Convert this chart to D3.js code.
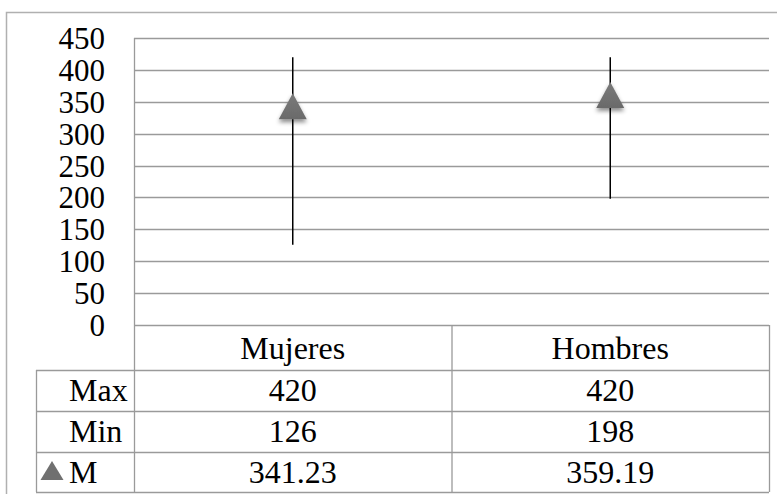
<!DOCTYPE html>
<html>
<head>
<meta charset="utf-8">
<script src="https://cdn.jsdelivr.net/npm/d3@7"></script>
</head>
<body style="margin:0">
<svg id="chart" width="777" height="494" font-family="Liberation Serif"></svg>
<script>
// Data
const categories = ["Mujeres", "Hombres"];
const maxValues = [420, 420];
const minValues = [126, 198];
const meanValues = [341.23, 359.19];
const yTicks = [0, 50, 100, 150, 200, 250, 300, 350, 400, 450];
const rowLabels = ["Max", "Min", "M"];

const svg = d3.select("#chart");
const W = 777, H = 494;
const fontName = "Liberation Serif";

// Layout
const plot = { left: 134, right: 769, top: 38, bottom: 325 };
const tableRows = [325, 370, 411, 452, 492]; // header + 3 data rows
const labelColLeft = 36;

const x = d3.scaleBand().domain(categories).range([plot.left, plot.right]);
const y = d3.scaleLinear().domain([0, 450]).range([plot.bottom, plot.top]);

const gridColor = "#9a9a9a";

const styleText = (sel, size) => sel
  .attr("font-family", fontName)
  .style("font-family", () => `"${fontName}"`)
  .style("font-size", size)
  .attr("fill", "#000");

// Drop shadow for markers
const defs = svg.append("defs");
const f = defs.append("filter").attr("id", "shadow")
  .attr("x", "-50%").attr("y", "-50%").attr("width", "200%").attr("height", "200%");
f.append("feDropShadow").attr("dx", 0).attr("dy", 3).attr("stdDeviation", 2)
  .attr("flood-color", "#000").attr("flood-opacity", 0.45);
const grad = defs.append("linearGradient").attr("id", "triFill")
  .attr("x1", 0).attr("y1", 0).attr("x2", 0).attr("y2", 1);
grad.append("stop").attr("offset", "0%").attr("stop-color", "#7a7a7a");
grad.append("stop").attr("offset", "100%").attr("stop-color", "#6a6a6a");

// Outer chart border
svg.append("rect")
  .attr("x", 6.5).attr("y", 12.5).attr("width", W + 10).attr("height", H + 10)
  .attr("fill", "none").attr("stroke", "#b0b0b0").attr("stroke-width", 1.5);

// Gridlines
svg.append("g").selectAll("line").data(yTicks).join("line")
  .attr("x1", plot.left).attr("x2", plot.right)
  .attr("y1", d => Math.round(y(d)) + 0.5).attr("y2", d => Math.round(y(d)) + 0.5)
  .attr("stroke", gridColor).attr("stroke-width", 1.3);

// Y axis labels
const yAxis = d3.axisLeft(y).tickValues(yTicks).tickSize(0).tickPadding(0).tickFormat(d3.format("d"));
const gy = svg.append("g").attr("transform", "translate(105,0)").call(yAxis)
  .attr("font-family", fontName).attr("font-size", 31);
gy.select(".domain").remove();
gy.selectAll("text").call(styleText, "31px").attr("dy", "0.34em");

// Plot left edge line running down through the table
svg.append("line")
  .attr("x1", plot.left + 0.5).attr("x2", plot.left + 0.5)
  .attr("y1", plot.top).attr("y2", tableRows[4])
  .attr("stroke", gridColor).attr("stroke-width", 1.3);

// Table grid
const tg = svg.append("g");
tableRows.slice(1).forEach(ry => {
  tg.append("line")
    .attr("x1", labelColLeft).attr("x2", plot.right)
    .attr("y1", ry + 0.5).attr("y2", ry + 0.5)
    .attr("stroke", gridColor).attr("stroke-width", 1.3);
});
[x("Hombres"), plot.right].forEach(vx => {
  tg.append("line")
    .attr("x1", vx + 0.5).attr("x2", vx + 0.5)
    .attr("y1", plot.bottom).attr("y2", tableRows[4])
    .attr("stroke", gridColor).attr("stroke-width", 1.3);
});
tg.append("line")
  .attr("x1", labelColLeft + 0.5).attr("x2", labelColLeft + 0.5)
  .attr("y1", tableRows[1]).attr("y2", tableRows[4])
  .attr("stroke", gridColor).attr("stroke-width", 1.3);

// Range lines (min to max)
svg.append("g").selectAll("line").data(categories).join("line")
  .attr("x1", d => x(d) + x.bandwidth() / 2).attr("x2", d => x(d) + x.bandwidth() / 2)
  .attr("y1", (d, i) => y(maxValues[i])).attr("y2", (d, i) => y(minValues[i]))
  .attr("stroke", "#000").attr("stroke-width", 1.5);

// Mean markers (triangles)
const tri = (cx, cy, hw, up, down) =>
  `M${cx},${cy - up}L${cx + hw},${cy + down}L${cx - hw},${cy + down}Z`;
svg.append("g").selectAll("path").data(categories).join("path")
  .attr("d", (d, i) => tri(x(d) + x.bandwidth() / 2, y(meanValues[i]), 14, 14, 12))
  .attr("fill", "url(#triFill)").attr("filter", "url(#shadow)");

// Table text
const colCenter = d => x(d) + x.bandwidth() / 2;
svg.append("g").selectAll("text").data(categories).join("text")
  .attr("x", colCenter).attr("y", (tableRows[0] + tableRows[1]) / 2 + 11)
  .attr("text-anchor", "middle").call(styleText, "32px").text(d => d);

const rows = [maxValues, minValues, meanValues];
const fmt = [d3.format("d"), d3.format("d"), d3.format(".2f")];
rows.forEach((vals, r) => {
  const cy = (tableRows[r + 1] + tableRows[r + 2]) / 2 + 10.5;
  svg.append("g").selectAll("text").data(categories).join("text")
    .attr("x", colCenter).attr("y", cy)
    .attr("text-anchor", "middle").call(styleText, "32px")
    .text((d, i) => fmt[r](vals[i]));
  svg.append("text")
    .attr("x", 69).attr("y", cy).call(styleText, "32px")
    .text(rowLabels[r]);
});

// Legend key for mean row
const keyCy = (tableRows[3] + tableRows[4]) / 2;
svg.append("path")
  .attr("d", `M52,${keyCy - 11}L63.5,${keyCy + 8}L40.5,${keyCy + 8}Z`)
  .attr("fill", "#707070");
</script>
</body>
</html>
